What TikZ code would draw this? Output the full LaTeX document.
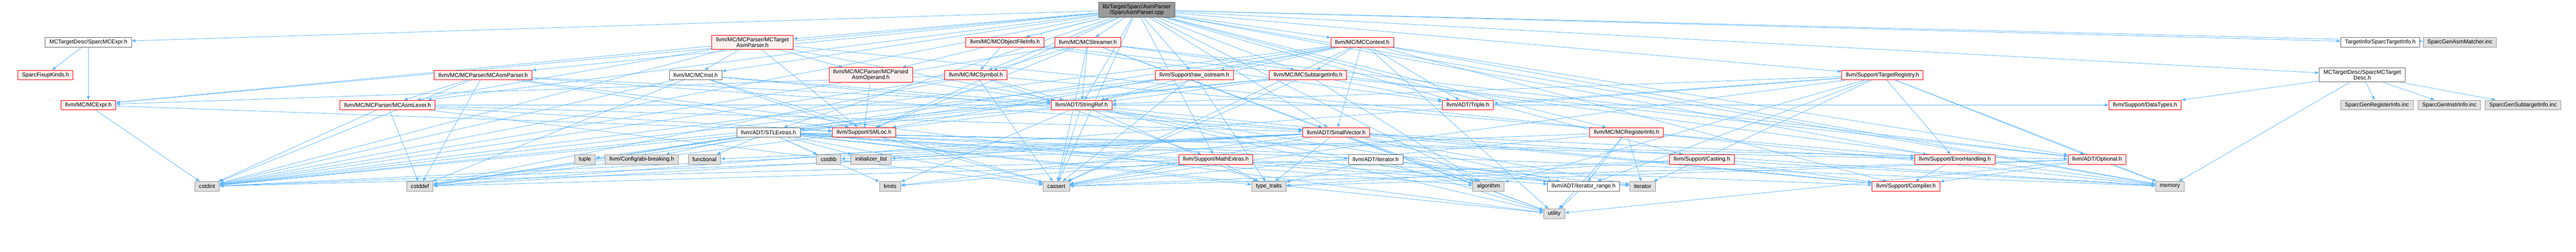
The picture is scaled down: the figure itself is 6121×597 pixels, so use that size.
\documentclass[tikz,border=0pt]{standalone}
\usepackage{fontspec}
\setmainfont{Liberation Sans}
\usetikzlibrary{arrows.meta,backgrounds}
\definecolor{edgeblue}{HTML}{63B8FF}
\definecolor{redfill}{HTML}{FFF0F0}
\definecolor{greyfill}{HTML}{E0E0E0}
\definecolor{greyline}{HTML}{999999}
\definecolor{darkline}{HTML}{666666}
\tikzset{
  hdr/.style={rectangle, line width=1.2pt, inner xsep=10pt, inner ysep=5pt,
    minimum height=23pt, align=center, font=\fontsize{13.3}{13.3}\selectfont},
  redhdr/.style={hdr, draw=red, fill=redfill},
  syshdr/.style={hdr, draw=greyline, fill=greyfill},
  plainhdr/.style={hdr, draw=darkline, fill=white},
  roothdr/.style={hdr, draw=darkline, fill=greyline},
  incl/.style={draw=edgeblue, line width=1pt, -{Triangle[length=9pt,width=7pt]}}
}
\begin{document}
\begin{tikzpicture}[x=1pt, y=-1pt]
  \useasboundingbox (0,0) rectangle (6121,597);
  \node[roothdr] (root) at(2701,23){lib/Target/Sparc/AsmParser\\/SparcAsmParser.cpp};
  \node[plainhdr] (sparcmcexpr) at(210,100){MCTargetDesc/SparcMCExpr.h};
  \node[redhdr] (mctargetasmparser) at(1788,100){llvm/MC/MCParser/MCTarget\\AsmParser.h};
  \node[redhdr] (mcobjectfileinfo) at(2388,100){llvm/MC/MCObjectFileInfo.h};
  \node[redhdr] (mcstreamer) at(2585,100){llvm/MC/MCStreamer.h};
  \node[redhdr] (mccontext) at(3237,100){llvm/MC/MCContext.h};
  \node[plainhdr] (sparctargetinfo) at(5656,100){TargetInfo/SparcTargetInfo.h};
  \node[syshdr] (sparcgenasmmatcher) at(5845,100){SparcGenAsmMatcher.inc};
  \node[redhdr] (sparcfixupkinds) at(108,178){SparcFixupKinds.h};
  \node[redhdr] (mcasmparser) at(1148,178){llvm/MC/MCParser/MCAsmParser.h};
  \node[plainhdr] (mcinst) at(1653,178){llvm/MC/MCInst.h};
  \node[redhdr] (mcparsedasmoperand) at(2069,178){llvm/MC/MCParser/MCParsed\\AsmOperand.h};
  \node[redhdr] (mcsymbol) at(2319,178){llvm/MC/MCSymbol.h};
  \node[redhdr] (rawostream) at(2838,178){llvm/Support/raw\_ostream.h};
  \node[redhdr] (mcsubtargetinfo) at(3108,178){llvm/MC/MCSubtargetInfo.h};
  \node[redhdr] (targetregistry) at(4473,178){llvm/Support/TargetRegistry.h};
  \node[plainhdr] (sparcmctargetdesc) at(5613,178){MCTargetDesc/SparcMCTarget\\Desc.h};
  \node[redhdr] (mcexpr) at(210,249){llvm/MC/MCExpr.h};
  \node[redhdr] (mcasmlexer) at(921,249){llvm/MC/MCParser/MCAsmLexer.h};
  \node[redhdr] (stringref) at(2570,249){llvm/ADT/StringRef.h};
  \node[redhdr] (triple) at(3488,249){llvm/ADT/Triple.h};
  \node[redhdr] (datatypes) at(5097,249){llvm/Support/DataTypes.h};
  \node[syshdr] (sparcgenregisterinfo) at(5648,249){SparcGenRegisterInfo.inc};
  \node[syshdr] (sparcgeninstrinfo) at(5820,249){SparcGenInstrInfo.inc};
  \node[syshdr] (sparcgensubtargetinfo) at(5995,249){SparcGenSubtargetInfo.inc};
  \node[plainhdr] (stlextras) at(1826,314){llvm/ADT/STLExtras.h};
  \node[redhdr] (smloc) at(2053,314){llvm/Support/SMLoc.h};
  \node[redhdr] (smallvector) at(3175,314){llvm/ADT/SmallVector.h};
  \node[redhdr] (mcregisterinfo) at(3865,314){llvm/MC/MCRegisterInfo.h};
  \node[syshdr] (tuple) at(1390,378){tuple};
  \node[syshdr] (abibreaking) at(1525,378){llvm/Config/abi-breaking.h};
  \node[syshdr] (functional) at(1674,378){functional};
  \node[syshdr] (cstdlib) at(1969,378){cstdlib};
  \node[syshdr] (initializerlist) at(2070,378){initializer\_list};
  \node[redhdr] (mathextras) at(2889,378){llvm/Support/MathExtras.h};
  \node[plainhdr] (iterator) at(3269,378){llvm/ADT/iterator.h};
  \node[redhdr] (casting) at(4044,378){llvm/Support/Casting.h};
  \node[redhdr] (errorhandling) at(4645,378){llvm/Support/ErrorHandling.h};
  \node[redhdr] (optional) at(4983,378){llvm/ADT/Optional.h};
  \node[syshdr] (cstdint) at(492,442){cstdint};
  \node[syshdr] (cstddef) at(998,442){cstddef};
  \node[syshdr] (limits) at(2115,442){limits};
  \node[syshdr] (cassert) at(2510,442){cassert};
  \node[syshdr] (typetraits) at(3015,442){type\_traits};
  \node[syshdr] (algorithm) at(3537,442){algorithm};
  \node[plainhdr] (iteratorrange) at(3763,442){llvm/ADT/iterator\_range.h};
  \node[syshdr] (iteratorstd) at(3903,442){iterator};
  \node[redhdr] (compiler) at(4529,442){llvm/Support/Compiler.h};
  \node[syshdr] (memory) at(5156,442){memory};
  \node[syshdr] (utility) at(3693,507){utility};
  \begin{scope}[on background layer]
    \foreach \t in {sparcmcexpr,sparcmctargetdesc,sparctargetinfo,stlextras,smallvector,stringref,triple,mccontext,mcexpr,mcinst,mcobjectfileinfo,mcasmlexer,mcasmparser,mcparsedasmoperand,mctargetasmparser,mcregisterinfo,mcstreamer,mcsubtargetinfo,mcsymbol,targetregistry,casting,errorhandling,mathextras,smloc,rawostream,algorithm,cassert,cstdint,memory,sparcgenasmmatcher}
      \draw[incl] (root) -- (\t);
    \foreach \t in {sparcfixupkinds,mcexpr}
      \draw[incl] (sparcmcexpr) -- (\t);
    \foreach \t in {datatypes,memory,sparcgenregisterinfo,sparcgeninstrinfo,sparcgensubtargetinfo}
      \draw[incl] (sparcmctargetdesc) -- (\t);
    \foreach \t in {stringref,mcexpr,mcasmlexer,mcparsedasmoperand,smloc,mcinst,cstdint,memory}
      \draw[incl] (mctargetasmparser) -- (\t);
    \foreach \t in {mcsymbol,triple,optional}
      \draw[incl] (mcobjectfileinfo) -- (\t);
    \foreach \t in {stringref,smallvector,optional,smloc,mcsymbol,cassert,cstdint,memory,utility}
      \draw[incl] (mcstreamer) -- (\t);
    \foreach \t in {mcsubtargetinfo,smallvector,stringref,triple,optional,compiler,rawostream,smloc,cassert,cstddef,cstdint,memory,utility}
      \draw[incl] (mccontext) -- (\t);
    \foreach \t in {mcasmlexer,smallvector,stringref,smloc,cstddef,cstdint,utility}
      \draw[incl] (mcasmparser) -- (\t);
    \foreach \t in {datatypes,smallvector,smloc,cassert,cstddef,cstdint}
      \draw[incl] (mcasmlexer) -- (\t);
    \foreach \t in {smallvector,stringref,smloc,cassert,cstddef,cstdint}
      \draw[incl] (mcinst) -- (\t);
    \foreach \t in {stringref,smloc}
      \draw[incl] (mcparsedasmoperand) -- (\t);
    \foreach \t in {stringref,mcexpr,errorhandling,mathextras,cassert,cstddef,cstdint}
      \draw[incl] (mcsymbol) -- (\t);
    \foreach \t in {stringref,cassert,cstddef,cstdint,typetraits}
      \draw[incl] (rawostream) -- (\t);
    \foreach \t in {stlextras,stringref,triple,algorithm,cassert,cstdint}
      \draw[incl] (mcsubtargetinfo) -- (\t);
    \foreach \t in {optional,stringref,triple,iteratorrange,errorhandling,algorithm,cassert,cstddef,iteratorstd,memory}
      \draw[incl] (targetregistry) -- (\t);
    \foreach \t in {optional,iterator,iteratorrange,abibreaking,errorhandling,algorithm,cassert,cstddef,cstdint,cstdlib,functional,initializerlist,iteratorstd,limits,memory,tuple,typetraits,utility}
      \draw[incl] (stlextras) -- (\t);
    \draw[incl] (smloc) -- (cassert);
    \foreach \t in {iteratorrange,compiler,errorhandling,algorithm,cassert,cstddef,cstdint,cstdlib,functional,initializerlist,iteratorstd,limits,memory,typetraits,utility}
      \draw[incl] (smallvector) -- (\t);
    \foreach \t in {stlextras,iteratorrange,compiler,algorithm,cassert,cstddef,limits,typetraits,utility}
      \draw[incl] (stringref) -- (\t);
    \draw[incl] (triple) -- (stringref);
    \foreach \t in {iteratorrange,cassert,cstdint,iteratorstd,utility}
      \draw[incl] (mcregisterinfo) -- (\t);
    \foreach \t in {smloc,cstdint}
      \draw[incl] (mcexpr) -- (\t);
    \foreach \t in {compiler,cassert,cstdint,limits,typetraits}
      \draw[incl] (mathextras) -- (\t);
    \foreach \t in {iteratorrange,cstddef,iteratorstd,typetraits,utility}
      \draw[incl] (iterator) -- (\t);
    \foreach \t in {compiler,typetraits,cassert,memory}
      \draw[incl] (casting) -- (\t);
    \draw[incl] (errorhandling) -- (compiler);
    \foreach \t in {compiler,cassert,memory,utility,typetraits}
      \draw[incl] (optional) -- (\t);
    \draw[incl] (iteratorrange) -- (utility);
  \end{scope}
\end{tikzpicture}
\end{document}
